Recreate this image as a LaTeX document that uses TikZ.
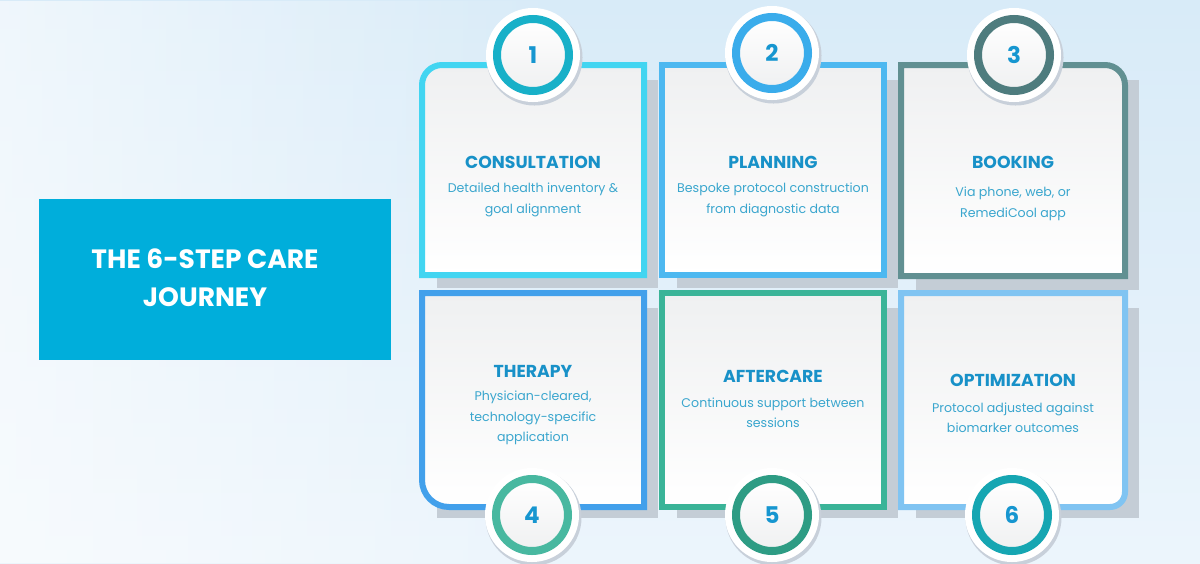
\documentclass[tikz,border=0pt]{standalone}
\usepackage{fontspec}
\setmainfont{Poppins}
\usetikzlibrary{fadings}

\definecolor{bgtop}{RGB}{216,235,248}
\definecolor{bgbot}{RGB}{236,245,252}
\definecolor{boxblue}{RGB}{0,174,219}
\definecolor{shadowgray}{RGB}{196,205,214}
\definecolor{cardtop}{RGB}{239,240,241}
\definecolor{titleblue}{RGB}{24,145,200}
\definecolor{bodyblue}{RGB}{58,166,206}
\definecolor{numblue}{RGB}{22,150,208}
\definecolor{discshadow}{RGB}{200,208,218}
% card borders
\definecolor{cone}{RGB}{66,213,241}
\definecolor{ctwo}{RGB}{77,184,240}
\definecolor{cthree}{RGB}{97,144,146}
\definecolor{cfour}{RGB}{66,160,235}
\definecolor{cfive}{RGB}{58,180,152}
\definecolor{csix}{RGB}{128,196,242}
% number rings
\definecolor{rone}{RGB}{24,176,200}
\definecolor{rtwo}{RGB}{58,172,235}
\definecolor{rthree}{RGB}{78,124,126}
\definecolor{rfour}{RGB}{72,184,160}
\definecolor{rfive}{RGB}{46,156,132}
\definecolor{rsix}{RGB}{22,166,178}

\tikzfading[name=fade right,left color=transparent!0,right color=transparent!100]

\tikzset{
  titlebox/.style={fill=boxblue,minimum width=352pt,minimum height=161pt,inner sep=0pt},
  titletext/.style={text=white,align=center,font=\bfseries\fontsize{26.5}{38}\selectfont},
  cardbox/.style={line width=6pt,top color=cardtop,bottom color=white},
  steptitle/.style={text=titleblue,font=\bfseries\fontsize{17.3}{18}\selectfont},
  stepbody/.style={text=bodyblue,align=center,font=\fontsize{12.6}{20.5}\selectfont},
  stepnum/.style={circle,minimum size=72pt,inner sep=0pt,line width=8pt,
    top color=white,bottom color=cardtop,text=numblue,
    font=\bfseries\fontsize{23}{24}\selectfont,
    preaction={draw=discshadow,line width=24pt,transform canvas={shift={(1.5pt,-2.5pt)}}},
    preaction={draw=white,line width=22pt}},
}

\begin{document}
\begin{tikzpicture}[x=1pt,y=-1pt]
  % background
  \shade[top color=bgtop,bottom color=bgbot] (0,0) rectangle (1200,563) ;
  \fill[white,opacity=0.6,path fading=fade right] (0,0) rectangle (560,563) ;
  \useasboundingbox (0,0) rectangle (1200,563) ;

  \node[titlebox] (journey) at (215,279.5) {} ;
  \node[titletext] (journeyname) at (205,278) {THE 6-STEP CARE\\JOURNEY} ;

  % shadows behind the cards
  \fill[shadowgray] (437,80) rectangle (658,288) ;
  \fill[shadowgray] (677,80) rectangle (898,288) ;
  \fill[shadowgray] (916,80) rectangle (1139,290) ;
  \fill[shadowgray] (437,308) rectangle (658,518) ;
  \fill[shadowgray] (677,308) rectangle (898,518) ;
  \fill[shadowgray] (916,308) rectangle (1139,518) ;

  % cards
  \draw[cardbox,draw=cone] (422,275) -- (422,85) arc[start angle=180,end angle=270,radius=20] -- (644,65) -- (644,275) -- cycle ;
  \draw[cardbox,draw=ctwo] (662,65) rectangle (884,275) ;
  \draw[cardbox,draw=cthree] (901,276) -- (901,65) -- (1105,65) arc[start angle=270,end angle=360,radius=20] -- (1125,276) -- cycle ;
  \draw[cardbox,draw=cfour] (422,293) -- (644,293) -- (644,507) -- (449,507) arc[start angle=90,end angle=180,radius=27] -- cycle ;
  \draw[cardbox,draw=cfive] (662,293) rectangle (884,507) ;
  \draw[cardbox,draw=csix] (901,293) -- (1125,293) -- (1125,492) arc[start angle=0,end angle=90,radius=15] -- (901,507) -- cycle ;

  \node[steptitle] (consultation) at (533,162) {CONSULTATION} ;
  \node[stepbody] (consultationtext) at (533,200) {Detailed health inventory \&\\goal alignment} ;
  \node[steptitle] (planning) at (773,162) {PLANNING} ;
  \node[stepbody] (planningtext) at (773,200) {Bespoke protocol construction\\from diagnostic data} ;
  \node[steptitle] (booking) at (1013,162) {BOOKING} ;
  \node[stepbody] (bookingtext) at (1013,204) {Via phone, web, or\\RemediCool app} ;
  \node[steptitle] (therapy) at (533,371) {THERAPY} ;
  \node[stepbody] (therapytext) at (533,418) {Physician-cleared,\\technology-specific\\application} ;
  \node[steptitle] (aftercare) at (773,376) {AFTERCARE} ;
  \node[stepbody] (aftercaretext) at (773,413) {Continuous support between\\sessions} ;
  \node[steptitle] (optimization) at (1013,380) {OPTIMIZATION} ;
  \node[stepbody] (optimizationtext) at (1013,418) {Protocol adjusted against\\biomarker outcomes} ;

  % numbered discs
  \node[stepnum,draw=rone] (one) at (533,55) {1} ;
  \node[stepnum,draw=rtwo] (two) at (772,53) {2} ;
  \node[stepnum,draw=rthree] (three) at (1014,55) {3} ;
  \node[stepnum,draw=rfour] (four) at (532,515) {4} ;
  \node[stepnum,draw=rfive] (five) at (772,515) {5} ;
  \node[stepnum,draw=rsix] (six) at (1012,515) {6} ;
\end{tikzpicture}
\end{document}
